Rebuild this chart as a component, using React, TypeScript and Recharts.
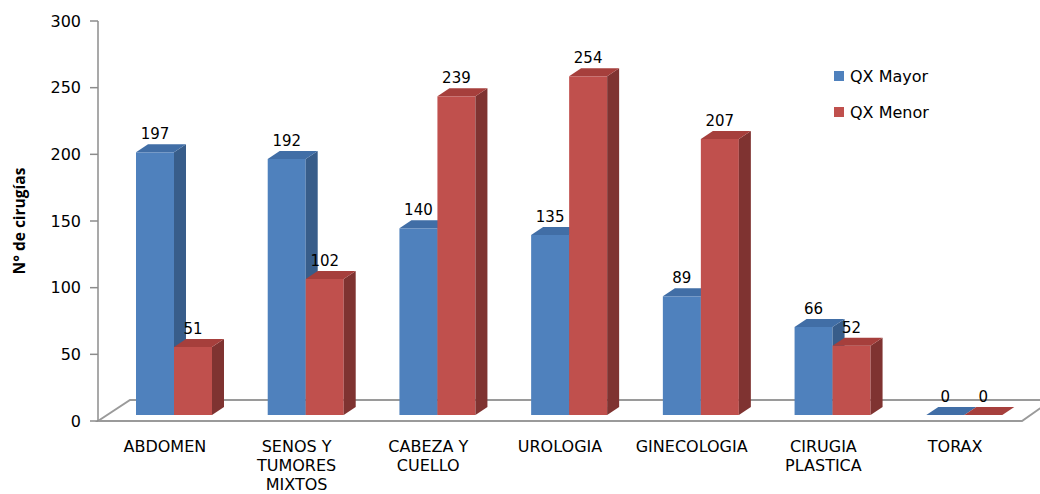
import React from 'react';
import * as R from 'recharts';
import { BarChart, Bar, XAxis, YAxis, Legend, LabelList } from 'recharts';

const categories = ['ABDOMEN', 'SENOS Y\nTUMORES\nMIXTOS', 'CABEZA Y\nCUELLO', 'UROLOGIA', 'GINECOLOGIA', 'CIRUGIA\nPLASTICA', 'TORAX'];
const qxMayor = [197, 192, 140, 135, 89, 66, 0];
const qxMenor = [51, 102, 239, 254, 207, 52, 0];
const yTicks = [0, 50, 100, 150, 200, 250, 300];
const seriesNames = ['QX Mayor', 'QX Menor'];

const data = categories.map((c, i) => ({ name: c, mayor: qxMayor[i], menor: qxMenor[i] }));

const FONT = '"DejaVu Sans", sans-serif';
const LIFT = 6;
const DX = 12;
const DY = 8;

const BLUE = { front: '#4F81BD', top: '#416EA6', side: '#385D8A' };
const RED = { front: '#C0504D', top: '#A63F3C', side: '#7F3331' };

const makeShape = (c: { front: string; top: string; side: string }) => (props: any) => {
  const { x, y, width, height } = props;
  const bottom = y + height - LIFT;
  const top = y - LIFT;
  const r = x + width;
  return (
    <g>
      <rect x={x} y={top} width={width} height={Math.max(0, bottom - top)} fill={c.front} />
      <polygon points={`${r},${top} ${r + DX},${top - DY} ${r + DX},${bottom - DY} ${r},${bottom}`} fill={c.side} />
      <polygon points={`${x},${top} ${x + DX},${top - DY} ${r + DX},${top - DY} ${r},${top}`} fill={c.top} />
    </g>
  );
};

const blueShape = makeShape(BLUE);
const redShape = makeShape(RED);

const valueLabel = (props: any) => {
  const { x, y, width, value } = props;
  return (
    <text x={x + width / 2} y={y - LIFT - 13} textAnchor="middle" fontFamily={FONT} fontSize={15} fill="#000">
      {value}
    </text>
  );
};

function Floor() {
  const hook = (R as any).usePlotArea;
  const pa = hook ? hook() : null;
  const left = pa ? pa.x : 98;
  const bottom = pa ? pa.y + pa.height : 421;
  const right = pa ? pa.x + pa.width : 1030;
  const pts = `${left},${bottom} ${left + 32},${bottom - 21} ${right + 22},${bottom - 21} ${right - 8},${bottom}`;
  return <polygon points={pts} fill="#fff" stroke="#9A9A9A" strokeWidth={2} />;
}

const CatTick = (props: any) => {
  const { x, y, payload } = props;
  const lines = String(payload.value).split('\n');
  return (
    <text x={x - 9} y={y} textAnchor="middle" fontFamily={FONT} fontSize={16} fill="#000">
      {lines.map((l, i) => (
        <tspan key={i} x={x - 9} y={y + 31 + i * 19}>
          {l}
        </tspan>
      ))}
    </text>
  );
};

const YTitle = (props: any) => {
  const vb = props.viewBox || { x: 0, y: 21, width: 98, height: 400 };
  const cx = 25;
  const cy = vb.y + vb.height / 2;
  return (
    <text
      x={cx}
      y={cy}
      transform={`rotate(-90, ${cx}, ${cy})`}
      textAnchor="middle"
      fontFamily='"Open Sans", sans-serif'
      fontWeight="bold"
      fontSize={15.5}
      fill="#000"
    >
      N° de cirugías
    </text>
  );
};

const LegendContent = () => (
  <div style={{ fontFamily: FONT, fontSize: 16, color: '#000' }}>
    {[BLUE.front, RED.front].map((col, i) => (
      <div key={i} style={{ display: 'flex', alignItems: 'center', height: 20, marginBottom: i === 0 ? 16 : 0 }}>
        <span style={{ display: 'inline-block', width: 10, height: 10, background: col, marginRight: 6 }} />
        <span>{seriesNames[i]}</span>
      </div>
    ))}
  </div>
);

export default function App() {
  return (
    <div style={{ position: 'absolute', left: 0, top: 0, width: 1040, height: 494, background: '#fff' }}>
      <BarChart
        width={1040}
        height={494}
        data={data}
        margin={{ top: 21, right: 10, bottom: 0, left: 0 }}
        barCategoryGap="21%"
        barGap={0}
      >
        <Floor />
        <XAxis
          dataKey="name"
          axisLine={false}
          tickLine={false}
          tickSize={0}
          tickMargin={0}
          height={73}
          padding={{ left: 10, right: 0 }}
          interval={0}
          tick={<CatTick />}
        />
        <YAxis
          width={98}
          domain={[0, 300]}
          ticks={yTicks}
          interval={0}
          tickSize={8}
          tickMargin={9}
          axisLine={{ stroke: '#8C8C8C', strokeWidth: 1.5 }}
          tickLine={{ stroke: '#8C8C8C', strokeWidth: 1.5 }}
          tick={{ fontFamily: FONT, fontSize: 16, fill: '#000' }}
          label={<YTitle />}
        />
        <Legend
          verticalAlign="middle"
          align="center"
          layout="vertical"
          content={<LegendContent />}
          wrapperStyle={{ position: 'absolute', left: 834, top: 66, width: 150 }}
        />
        <Bar dataKey="mayor" name={seriesNames[0]} fill={BLUE.front} barSize={38} shape={blueShape} isAnimationActive={false}>
          <LabelList dataKey="mayor" content={valueLabel} />
        </Bar>
        <Bar dataKey="menor" name={seriesNames[1]} fill={RED.front} barSize={38} shape={redShape} isAnimationActive={false}>
          <LabelList dataKey="menor" content={valueLabel} />
        </Bar>
      </BarChart>
    </div>
  );
}
